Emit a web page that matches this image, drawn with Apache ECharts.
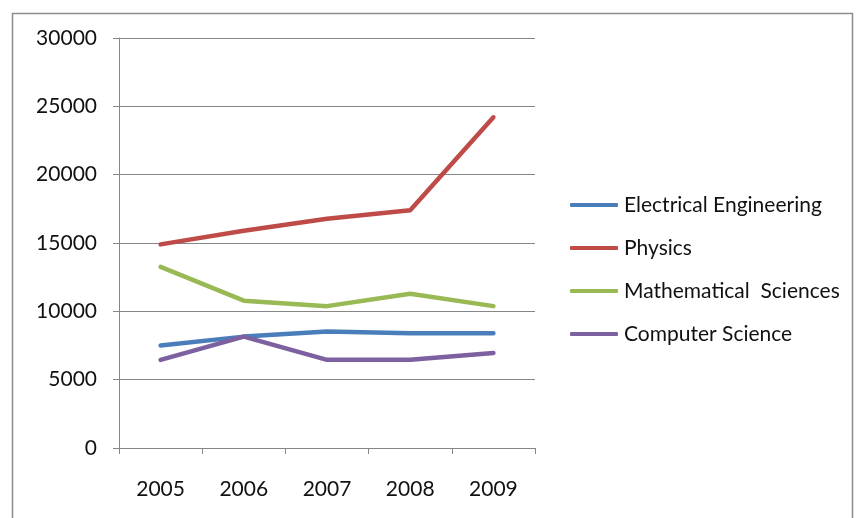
<!DOCTYPE html>
<html><head><meta charset="utf-8">
<script src="https://cdn.jsdelivr.net/npm/echarts@6/dist/echarts.min.js"></script>
<style>html,body{margin:0;padding:0;background:#fff}#c{width:857px;height:518px}</style>
</head><body><div id="c"></div>
<script>
const years = ['2005','2006','2007','2008','2009'];
const electricalEngineering = [7500, 8150, 8530, 8400, 8400];
const physics = [14900, 15900, 16780, 17400, 24200];
const mathematicalSciences = [13250, 10780, 10380, 11280, 10380];
const computerScience = [6450, 8150, 6450, 6450, 6950];
const seriesNames = ['Electrical Engineering', 'Physics', 'Mathematical  Sciences', 'Computer Science'];
const colors = ['#4a7ebb', '#be4b48', '#98b954', '#7d60a0'];
const FONT = 'Lato';
const chart = echarts.init(document.getElementById('c'), null, {renderer: 'canvas'});
const dataSets = [electricalEngineering, physics, mathematicalSciences, computerScience];
chart.setOption({
  animation: false,
  color: colors,
  graphic: [{type: 'rect', shape: {x: 12.5, y: 13.5, width: 840, height: 520}, style: {fill: 'none', stroke: '#8c8c8c', lineWidth: 1.5}, silent: true}],
  grid: {left: 119, right: 322, top: 38, bottom: 70},
  legend: {
    orient: 'vertical', left: 570, top: 194, padding: 0, itemGap: 21, itemWidth: 48, itemHeight: 4,
    icon: 'roundRect',
    textStyle: {fontFamily: FONT, fontSize: 21, lineHeight: 22, color: '#111', padding: [0, 0, 0, 1]},
    data: seriesNames
  },
  xAxis: {
    type: 'category', data: years, boundaryGap: true,
    axisLine: {lineStyle: {color: '#868686', width: 1}},
    axisTick: {show: true, length: 6, lineStyle: {color: '#868686'}},
    axisLabel: {fontFamily: FONT, fontSize: 21, color: '#111', margin: 31}
  },
  yAxis: {
    type: 'value', min: 0, max: 30000, interval: 5000,
    axisLine: {show: true, lineStyle: {color: '#868686'}},
    axisTick: {show: true, length: 6, lineStyle: {color: '#868686'}},
    splitLine: {lineStyle: {color: '#868686', width: 1}},
    axisLabel: {fontFamily: FONT, fontSize: 21, color: '#111', margin: 22, formatter: v => String(v)}
  },
  series: dataSets.map((d, i) => ({
    name: seriesNames[i], type: 'line', data: d, symbol: 'none',
    lineStyle: {width: 4.5, color: colors[i], cap: 'round', join: 'round'}
  }))
});
</script></body></html>
